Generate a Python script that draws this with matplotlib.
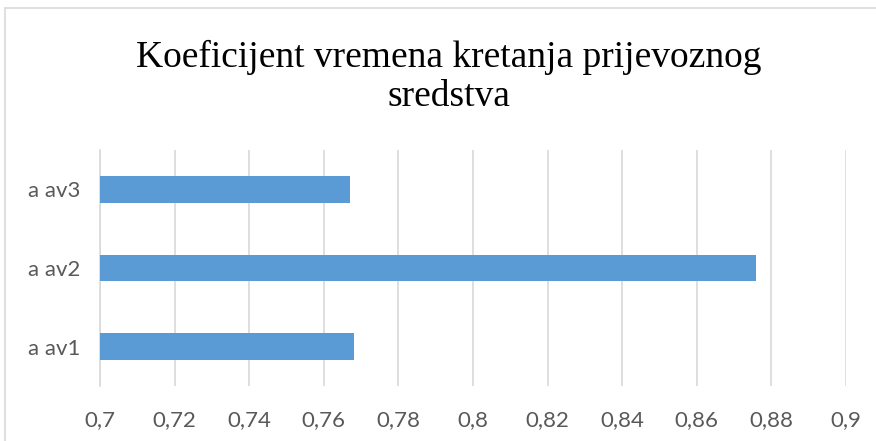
import matplotlib
matplotlib.use("Agg")
import matplotlib.pyplot as plt
from matplotlib.patches import Rectangle

categories = ["a av1", "a av2", "a av3"]
values = [0.768, 0.876, 0.767]
xticks = [0.70, 0.72, 0.74, 0.76, 0.78, 0.80, 0.82, 0.84, 0.86, 0.88, 0.90]
xticklabels = ["0,7", "0,72", "0,74", "0,76", "0,78", "0,8", "0,82", "0,84", "0,86", "0,88", "0,9"]
title = "Koeficijent vremena kretanja prijevoznog\nsredstva"

W, H = 876, 441
fig = plt.figure(figsize=(W / 100, H / 100), dpi=100)
fig.patch.set_facecolor("white")

# outer chart frame (left/top visible, rest cut off)
fig.patches.append(Rectangle((5 / W, -0.1), 1.2, 1 - 8 / H + 0.1, transform=fig.transFigure,
                             fill=False, edgecolor="#d9d9d9", linewidth=1.2))

ax = fig.add_axes([100 / W, 1 - 386 / H, 746 / W, 236 / H])
ypos = list(range(len(categories)))
ax.barh(ypos, [v - 0.7 for v in values], left=0.7, height=0.34, color="#5b9bd5",
        edgecolor="none", zorder=3)
ax.set_xlim(0.7, 0.9)
ax.set_ylim(-0.5, 2.5)
ax.set_xticks(xticks)
ax.set_xticklabels(xticklabels)
ax.set_yticks(ypos)
ax.set_yticklabels(categories)
ax.grid(axis="x", color="#d9d9d9", linewidth=1.2, zorder=0)
for s in ["top", "right", "bottom"]:
    ax.spines[s].set_visible(False)
ax.spines["left"].set_color("#d9d9d9")
ax.spines["left"].set_linewidth(1.2)
ax.tick_params(axis="both", length=0, colors="#595959", labelsize=16)
ax.tick_params(axis="x", pad=17)
ax.tick_params(axis="y", pad=14)
for lab in ax.get_xticklabels() + ax.get_yticklabels():
    lab.set_fontfamily(["Lato", "DejaVu Sans"])

fig.text(449 / W, 1 - 77 / H, title, ha="center", va="center", fontsize=27,
         family=["Liberation Serif", "DejaVu Serif"], color="black", linespacing=1.2)

fig.savefig("out.png", dpi=100)
